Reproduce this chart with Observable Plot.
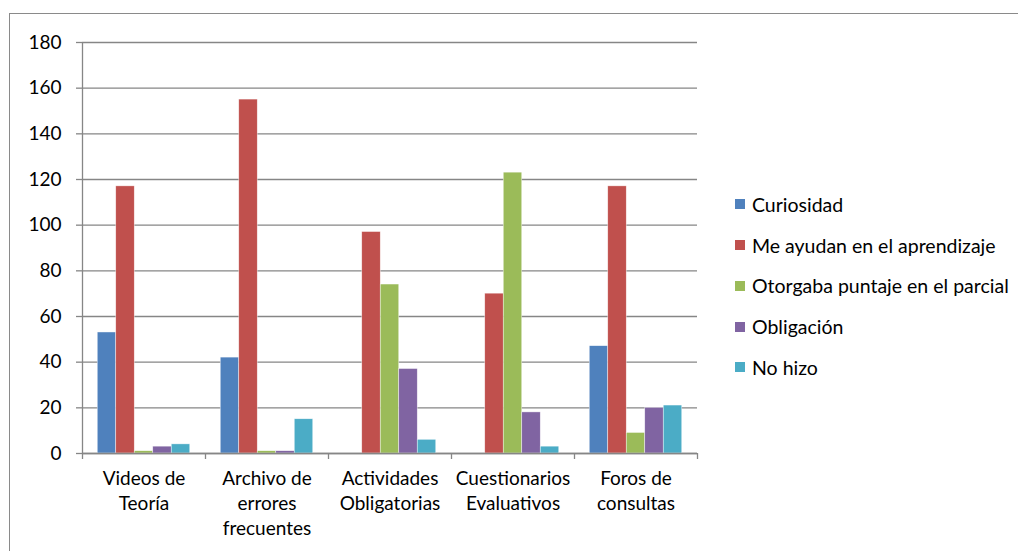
<!DOCTYPE html>
<html>
<head>
<meta charset="utf-8">
<script src="https://cdn.jsdelivr.net/npm/d3@7"></script>
<script src="https://cdn.jsdelivr.net/npm/@observablehq/plot@0.6"></script>
<style>
  html, body { margin: 0; padding: 0; background: #fff; }
  #wrap { position: relative; width: 1018px; height: 551px; overflow: hidden; font-family: Lato, sans-serif; }
  #frame { position: absolute; left: 9px; top: 13px; width: 1030px; height: 560px; border-top: 1.5px solid #8a8a8a; border-left: 1.5px solid #8a8a8a; box-sizing: border-box; }
  #chart { position: absolute; left: 0; top: 0; }
  #legend { position: absolute; left: 735px; top: 184px; }
  .item { height: 40.75px; display: flex; align-items: center; font-size: 19.5px; color: #000; white-space: nowrap; }
  .sw { width: 10px; height: 10px; margin-right: 7px; flex: none; }
</style>
</head>
<body>
<div id="wrap">
  <div id="frame"></div>
  <div id="chart"></div>
  <div id="legend"></div>
</div>
<script>
const categories = ["Videos de Teoría", "Archivo de errores frecuentes", "Actividades Obligatorias", "Cuestionarios Evaluativos", "Foros de consultas"];
const categoryLabels = ["Videos de\nTeoría", "Archivo de\nerrores\nfrecuentes", "Actividades\nObligatorias", "Cuestionarios\nEvaluativos", "Foros de\nconsultas"];
const series = ["Curiosidad", "Me ayudan en el aprendizaje", "Otorgaba puntaje en el parcial", "Obligación", "No hizo"];
const curiosidad = [53, 42, 0, 0, 47];
const meAyudan = [117, 155, 97, 70, 117];
const otorgaba = [1, 1, 74, 123, 9];
const obligacion = [3, 1, 37, 18, 20];
const noHizo = [4, 15, 6, 3, 21];
const colors = ["#4F81BD", "#C0504D", "#9BBB59", "#8064A2", "#4BACC6"];
const yTicks = [0, 20, 40, 60, 80, 100, 120, 140, 160, 180];

const seriesValues = [curiosidad, meAyudan, otorgaba, obligacion, noHizo];
const data = [];
categories.forEach((c, ci) => series.forEach((s, si) => data.push({category: c, series: s, value: seriesValues[si][ci]})));

const W = 710, H = 551, mL = 82, mR = 13, mT = 42, mB = 98;
const padOuter = 0.824;
const facetW = (W - mL - mR) / categories.length;
const step = facetW / (series.length + 2 * padOuter);
const edgeOffset = step * (padOuter + 0.5);
const pxPerUnit = (H - mT - mB) / 180;
const tickLen = 6 / pxPerUnit;
const gray = "#868686";

const chart = Plot.plot({
  width: W, height: H,
  marginLeft: mL, marginRight: mR, marginTop: mT, marginBottom: mB,
  style: {fontFamily: "Lato, sans-serif", fontSize: "19px", color: "#000", background: "transparent"},
  fx: {domain: categories, padding: 0, round: false, axis: null, label: null},
  x: {domain: series, paddingInner: 0, paddingOuter: padOuter, round: false, axis: null},
  y: {domain: [0, 180], axis: null},
  color: {domain: series, range: colors},
  marks: [
    Plot.gridY(yTicks, {stroke: gray, strokeOpacity: 1, strokeWidth: 1.3}),
    Plot.barY(data, {fx: "category", x: "series", y: "value", fill: "series", stroke: "#fff", strokeWidth: 0.6, strokeOpacity: 0.7}),
    Plot.ruleY([0], {stroke: gray, strokeWidth: 1.3}),
    Plot.ruleX([categories[0]], {fx: d => d, x: () => series[0], dx: -edgeOffset, y1: 0, y2: 180, stroke: gray, strokeWidth: 1.3}),
    Plot.ruleX(categories, {fx: d => d, x: () => series[0], dx: -edgeOffset, y1: 0, y2: -tickLen, stroke: gray, strokeWidth: 1.3}),
    Plot.ruleX([categories[categories.length - 1]], {fx: d => d, x: () => series[series.length - 1], dx: edgeOffset, y1: 0, y2: -tickLen, stroke: gray, strokeWidth: 1.3}),
    Plot.axisY(yTicks, {anchor: "left", tickSize: 6, tickPadding: 15, stroke: gray, strokeWidth: 1.3, fill: "#000", fontSize: 19, label: null}),
    Plot.text(categories, {fx: d => d, frameAnchor: "bottom", text: d => categoryLabels[categories.indexOf(d)], lineAnchor: "top", dy: 14, lineHeight: 1.32, fontSize: 19, fill: "#000"})
  ]
});
document.getElementById("chart").appendChild(chart);

const legend = document.getElementById("legend");
series.forEach((s, i) => {
  const item = document.createElement("div");
  item.className = "item";
  const sw = document.createElement("span");
  sw.className = "sw";
  sw.style.background = colors[i];
  const t = document.createElement("span");
  t.textContent = s;
  item.appendChild(sw);
  item.appendChild(t);
  legend.appendChild(item);
});
</script>
</body>
</html>
